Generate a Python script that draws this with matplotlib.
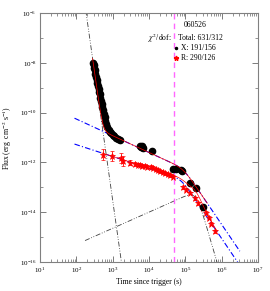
import numpy as np
import matplotlib
matplotlib.use('Agg')
import matplotlib.pyplot as plt
from matplotlib.ticker import LogLocator, NullFormatter, FixedLocator

plt.rcParams['font.family'] = ['Liberation Serif', 'DejaVu Serif']
plt.rcParams['mathtext.fontset'] = 'stix'

# X-ray data (black)
x_time = [290, 300, 310, 320, 335, 350, 365, 380, 395, 410, 425, 440, 460, 480, 500,
          520, 545, 570, 600, 630, 670, 720, 780, 850, 920, 1000, 1100, 1250, 1420, 1620,
          5600, 6000, 6300, 6600, 6900, 12300,
          44700, 53700, 74100, 83200, 138000, 190500, 316000]
x_flux = [1.0e-8, 7.9e-9, 6.3e-9, 5.0e-9, 3.6e-9, 2.7e-9, 2.0e-9, 1.5e-9, 1.15e-9, 8.9e-10,
          6.9e-10, 5.5e-10, 4.0e-10, 3.0e-10, 2.2e-10, 1.7e-10, 1.26e-10, 9.1e-11, 6.5e-11,
          4.7e-11, 3.6e-11, 2.75e-11, 2.0e-11, 1.66e-11, 1.45e-11, 1.3e-11, 1.1e-11, 9.5e-12,
          8.7e-12, 7.9e-12,
          4.4e-12, 4.0e-12, 4.6e-12, 4.1e-12, 3.8e-12, 2.9e-12,
          5.4e-13, 5.4e-13, 4.9e-13, 4.5e-13, 1.5e-13, 9.3e-14, 1.6e-14]

# R-band data (red)
r_time = [550, 977, 1740, 1950, 3090, 4170, 5000, 5750, 6500, 7940, 9000, 11000, 12500,
          15100, 17500, 20400, 24000, 28200, 33000, 38900, 46800,
          89000, 107000, 138000, 190000, 229000, 302000, 363000, 437000, 525000, 676000]
r_flux = [2.0e-12, 1.8e-12, 1.5e-12, 1.15e-12, 9.5e-13, 8.7e-13, 8.2e-13, 7.9e-13, 7.5e-13,
          7.2e-13, 6.8e-13, 6.6e-13, 6.0e-13, 5.4e-13, 4.9e-13, 4.5e-13, 4.1e-13, 3.7e-13,
          3.4e-13, 3.1e-13, 2.6e-13,
          1.0e-13, 7.8e-14, 5.9e-14, 3.7e-14, 2.3e-14, 1.5e-14, 9.3e-15, 5.9e-15, 3.4e-15,
          1.7e-15]
r_err = [0.22, 0.2, 0.2, 0.2, 0.1, 0.08, 0.06, 0.06, 0.06, 0.06, 0.06, 0.06, 0.06, 0.06,
         0.06, 0.06, 0.06, 0.06, 0.06, 0.06, 0.06, 0.06, 0.06, 0.06, 0.06, 0.06, 0.06, 0.06,
         0.06, 0.06, 0.06]

# model components (log10 parameters)
steep_pars = [-6.0, 2.27, 10.3]                 # logF at logt, slope
blue_x_pars = [-12.235, 4.95, 0.67, 2.15, 3.0]  # logN, logtb, a1, a2, smooth
blue_r_pars = [-12.66, 4.89, 0.475, 2.16, 3.0]
rise_pars = [-13.15, 5.3, -0.65, 5.0, 1.0]
t_break_line = 5.0e4


def bpl(t, p):
    logn, logtb, a1, a2, w = p
    x = t / 10 ** logtb
    return 10 ** logn * (x ** (a1 * w) + x ** (a2 * w)) ** (-1.0 / w)


def steep(t, p):
    return 10 ** (p[0] - p[2] * (np.log10(t) - p[1]))


fig = plt.figure(figsize=(2.70, 2.91), dpi=100)
ax = fig.add_axes([40 / 270, 1 - 262 / 291, 218 / 270, 249 / 291])

t_all = np.logspace(1.95, 6.5, 400)
t_steep = np.logspace(2.0, 3.5, 200)
t_rise = np.logspace(2.24, 6.2, 400)

dd = (0, (6, 2, 1, 2, 1, 2))
ax.plot(t_steep, steep(t_steep, steep_pars), color='0.25', ls=dd, lw=0.6)
ax.plot(t_rise, bpl(t_rise, rise_pars), color='0.25', ls=dd, lw=0.6)
ax.plot(t_all, bpl(t_all, blue_x_pars), color='blue', ls=(0, (5, 2, 1, 2)), lw=0.8)
ax.plot(t_all, bpl(t_all, blue_r_pars), color='blue', ls=(0, (5, 2, 1, 2)), lw=0.8)

rf = np.array(r_flux)
re = np.array(r_err)
ax.errorbar(r_time, r_flux, yerr=[rf * (1 - 10 ** -re), rf * (10 ** re - 1)],
            fmt='*', color='red', ms=4.5, mew=0.5, elinewidth=0.6, capsize=1.2, zorder=3)
ax.plot(x_time, x_flux, 'o', color='black', ms=4.5, zorder=4)

t_xm = np.logspace(np.log10(280), np.log10(4e5), 300)
t_rm = np.logspace(np.log10(500), np.log10(7e5), 300)
ax.plot(t_xm, steep(t_xm, steep_pars) + bpl(t_xm, blue_x_pars), color='red', lw=0.5, zorder=5)
ax.plot(t_rm, bpl(t_rm, blue_r_pars) + bpl(t_rm, rise_pars), color='red', lw=0.5, zorder=5)

ax.axvline(t_break_line, color='#ff66ff', ls=(0, (4, 3)), lw=1.0)

ax.set_xscale('log')
ax.set_yscale('log')
ax.set_xlim(1e1, 1e7)
ax.set_ylim(1e-16, 1e-6)
ax.yaxis.set_major_locator(FixedLocator([1e-16, 1e-14, 1e-12, 1e-10, 1e-8, 1e-6]))
ax.yaxis.set_minor_locator(FixedLocator([1e-15, 1e-13, 1e-11, 1e-9, 1e-7]))
ax.yaxis.set_minor_formatter(NullFormatter())
ax.xaxis.set_major_locator(LogLocator(base=10, numticks=10))
ax.xaxis.set_minor_locator(LogLocator(base=10, subs=np.arange(2, 10), numticks=20))
ax.xaxis.set_minor_formatter(NullFormatter())
ax.tick_params(which='both', direction='in', top=True, right=True, labelsize=5,
               color='0.4', pad=2.5)
ax.tick_params(which='major', length=4, width=0.6)
ax.tick_params(which='minor', length=2, width=0.5)
for s in ax.spines.values():
    s.set_color('0.5')
    s.set_linewidth(0.8)

ax.set_xlabel('Time since trigger (s)', fontsize=5.5, labelpad=2)
ax.set_ylabel(r'Flux (erg  cm$^{-2}$ s$^{-1}$)', fontsize=5.5)
ax.yaxis.set_label_coords(-0.12, 0.5)

ax.text(0.711, 0.952, '060526', transform=ax.transAxes, fontsize=5.5, ha='center', va='center')
ax.text(0.606, 0.90, r'$\chi^2$/dof:', transform=ax.transAxes, fontsize=5.5, ha='right', va='center')
ax.text(0.633, 0.90, 'Total: 631/312', transform=ax.transAxes, fontsize=5.5, ha='left', va='center')
ax.plot([0.622], [0.859], 'o', color='black', ms=1.5, transform=ax.transAxes)
ax.text(0.647, 0.859, 'X: 191/156', transform=ax.transAxes, fontsize=5.5, ha='left', va='center')
ax.plot([0.622], [0.819], '*', color='red', ms=3.5, transform=ax.transAxes)
ax.text(0.647, 0.819, 'R: 290/126', transform=ax.transAxes, fontsize=5.5, ha='left', va='center')

plt.savefig('out.png', dpi=100)
